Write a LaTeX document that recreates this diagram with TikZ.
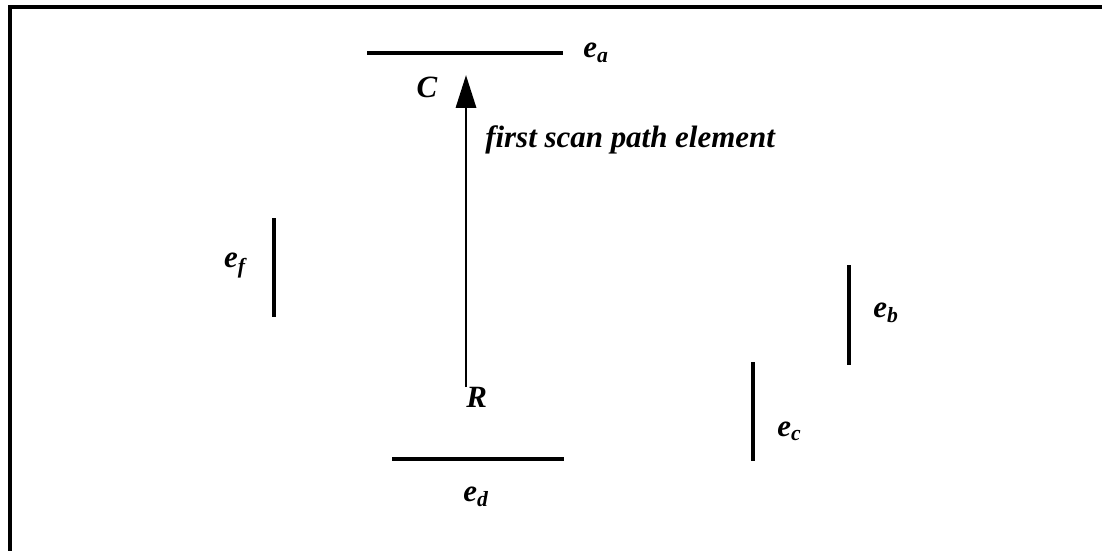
\documentclass[tikz,border=0pt]{standalone}
\usepackage{fontspec}
\setmainfont{Liberation Serif}
\usetikzlibrary{arrows.meta,positioning,calc}

\begin{document}
\begin{tikzpicture}[
    x=0.025cm, y=-0.025cm,
    node distance=5mm,
    seg/.style={line width=3.5pt},
    lbl/.style={font=\fontsize{22}{26}\selectfont\bfseries\itshape, inner sep=0pt},
    arr/.style={-{Triangle[length=8.2mm,width=5mm]}, line width=2.1pt},
    frame/.style={line width=2.2pt}
  ]
  \useasboundingbox (0,0) rectangle (1102,551);
  % cut-off frame
  \draw[frame] (10,551) -- (10,7) -- (1102,7);

  % segment end points
  \coordinate (ea1) at (367,53);  \coordinate (ea2) at (563,53);
  \coordinate (eb1) at (849,265); \coordinate (eb2) at (849,365);
  \coordinate (ec1) at (753,362); \coordinate (ec2) at (753,461);
  \coordinate (ed1) at (392,459); \coordinate (ed2) at (564,459);
  \coordinate (ef1) at (274,218); \coordinate (ef2) at (274,317);
  \coordinate (r) at (466,387);   \coordinate (c) at (466,75);

  \draw[seg] (ea1) -- (ea2);
  \draw[seg] (eb1) -- (eb2);
  \draw[seg] (ec1) -- (ec2);
  \draw[seg] (ed1) -- (ed2);
  \draw[seg] (ef1) -- (ef2);
  \draw[arr] (r) -- (c);

  \node[lbl, right=5mm of ea2] (la) {e\textsubscript{a}};
  \node[lbl, right=6mm of $(eb1)!0.48!(eb2)$] (lb) {e\textsubscript{b}};
  \node[lbl, right=6mm of $(ec1)!0.7!(ec2)$] (lc) {e\textsubscript{c}};
  \node[lbl] (ld) at (476,497) {e\textsubscript{d}};
  \node[lbl, left=7mm of $(ef1)!0.48!(ef2)$] (lf) {e\textsubscript{f}};
  \node[lbl] (lC) at (427,87) {C};
  \node[lbl, below right=0mm and 0mm of r] (lR) {R};
  \node[lbl, anchor=west] (lfirst) at (485,140) {first scan path element};
\end{tikzpicture}
\end{document}
